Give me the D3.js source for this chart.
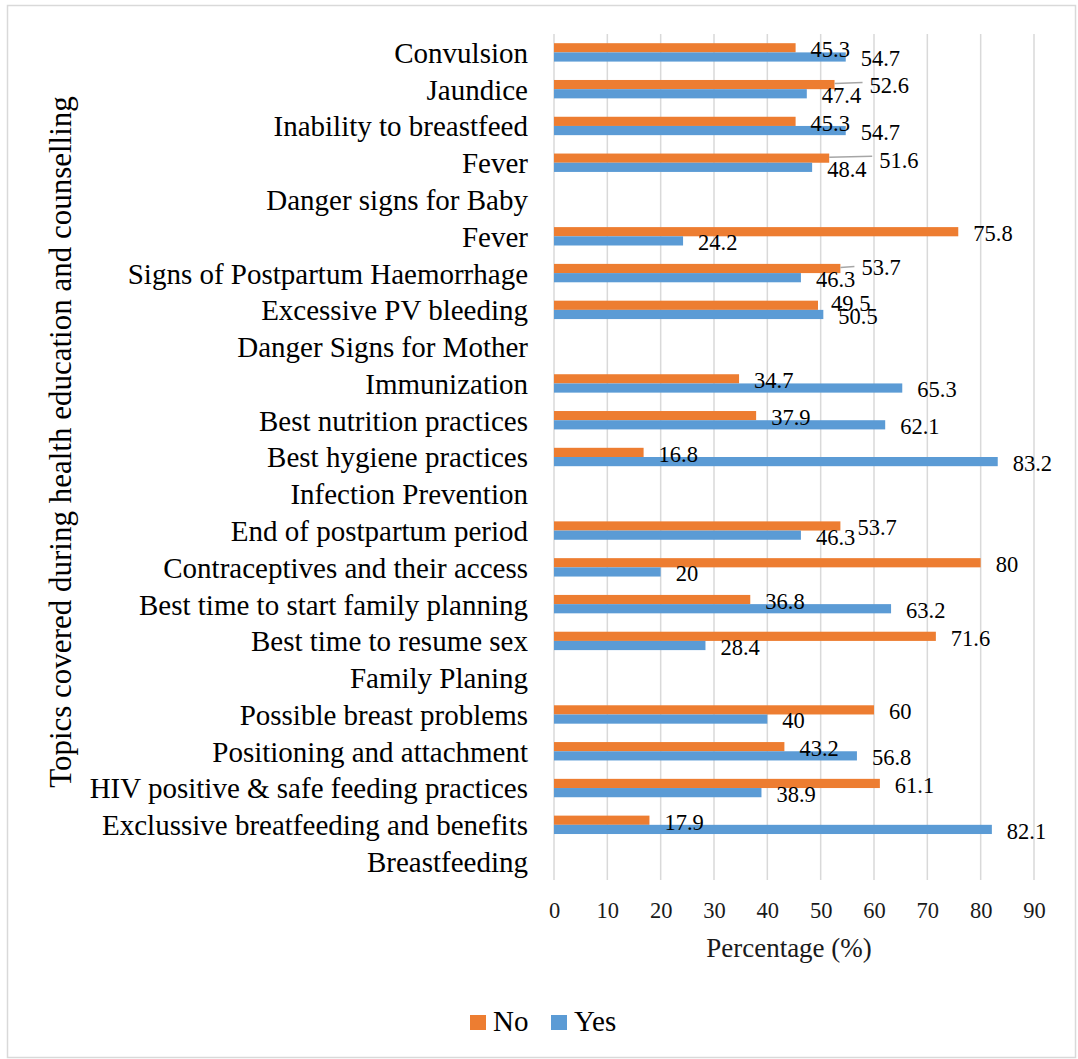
<!DOCTYPE html>
<html>
<head>
<meta charset="utf-8">
<script src="https://cdn.jsdelivr.net/npm/d3@7"></script>
<style>
  body { margin: 0; background: #fff; }
</style>
</head>
<body>
<div id="chart"></div>
<script>
// topics, top to bottom as drawn; group headers have no values
const topics = [
    'Convulsion', 'Jaundice', 'Inability to breastfeed', 'Fever',
    'Danger signs for Baby',
    'Fever', 'Signs of Postpartum Haemorrhage', 'Excessive PV bleeding',
    'Danger Signs for Mother',
    'Immunization', 'Best nutrition practices', 'Best hygiene practices',
    'Infection Prevention',
    'End of postpartum period', 'Contraceptives and their access',
    'Best time to start family planning', 'Best time to resume sex',
    'Family Planing',
    'Possible breast problems', 'Positioning and attachment',
    'HIV positive & safe feeding practices', 'Exclussive breatfeeding and benefits',
    'Breastfeeding'
];
const noValues = [45.3, 52.6, 45.3, 51.6, null, 75.8, 53.7, 49.5, null, 34.7, 37.9, 16.8, null,
    53.7, 80, 36.8, 71.6, null, 60, 43.2, 61.1, 17.9, null];
const yesValues = [54.7, 47.4, 54.7, 48.4, null, 24.2, 46.3, 50.5, null, 65.3, 62.1, 83.2, null,
    46.3, 20, 63.2, 28.4, null, 40, 56.8, 38.9, 82.1, null];
const seriesNames = ['No', 'Yes'];
const xTicks = [0, 10, 20, 30, 40, 50, 60, 70, 80, 90];

const colors = { No: '#ED7D31', Yes: '#5B9BD5' };
const FONT = '"Liberation Serif", "Times New Roman", Times, "DejaVu Serif", serif';

// labels that were dragged aside in the original (key: row-series)
const labelNudge = {
    '1-No': { dx: 20, dy: -1, leader: true },
    '3-No': { dx: 35, dy: 0, leader: true },
    '6-No': { dx: 6, dy: -3, leader: true },
    '7-No': { dx: -2, dy: -4 },
    '13-No': { dx: 2, dy: 0 }
};
const nudge = d => labelNudge[d.i + '-' + d.series] || { dx: 0, dy: 0 };

const width = 1078, height = 1059;
const plot = { left: 554, right: 1034, top: 34, bottom: 880 };

const svg = d3.select('#chart').append('svg')
    .attr('width', width)
    .attr('height', height)
    .style('font-family', FONT);

svg.append('rect')
    .attr('x', 7.5).attr('y', 5.5)
    .attr('width', 1068).attr('height', 1052)
    .attr('fill', '#fff')
    .attr('stroke', '#d9d9d9')
    .attr('stroke-width', 1.5);

const x = d3.scaleLinear().domain([0, 90]).range([plot.left, plot.right]);
const y = d3.scaleBand()
    .domain(d3.range(topics.length))
    .range([plot.top, plot.bottom])
    .paddingInner(0.5)
    .paddingOuter(0.25);
const ySub = d3.scaleBand().domain(seriesNames).range([0, y.bandwidth()]);

// gridlines
svg.append('g')
    .selectAll('line')
    .data(xTicks)
    .enter().append('line')
    .attr('x1', d => x(d)).attr('x2', d => x(d))
    .attr('y1', plot.top).attr('y2', plot.bottom)
    .attr('stroke', '#d9d9d9')
    .attr('stroke-width', 1.5);

// x axis ticks
const xAxis = svg.append('g')
    .attr('transform', `translate(0, ${plot.bottom})`)
    .call(d3.axisBottom(x).tickValues(xTicks).tickSize(0).tickPadding(22));
xAxis.attr('font-family', null);
xAxis.select('.domain').remove();
xAxis.selectAll('text')
    .style('font-family', FONT)
    .style('font-size', '22.5px')
    .style('fill', '#1a1a1a');

// category labels
const yAxis = svg.append('g')
    .attr('transform', `translate(${plot.left - 26}, 0)`)
    .call(d3.axisLeft(y).tickFormat(i => topics[i]).tickSize(0).tickPadding(0));
yAxis.attr('font-family', null);
yAxis.select('.domain').remove();
yAxis.selectAll('text')
    .style('font-family', FONT)
    .style('font-size', '29px')
    .style('fill', '#000')
    .attr('dy', '0.36em');

// bars
const rows = topics.map((t, i) => ({ i, No: noValues[i], Yes: yesValues[i] }));
const items = [];
rows.forEach(r => seriesNames.forEach(s => {
    if (r[s] !== null) items.push({ i: r.i, series: s, value: r[s] });
}));

svg.append('g')
    .selectAll('rect')
    .data(items)
    .enter().append('rect')
    .attr('x', x(0))
    .attr('y', d => y(d.i) + ySub(d.series))
    .attr('width', d => x(d.value) - x(0))
    .attr('height', ySub.bandwidth())
    .attr('fill', d => colors[d.series]);

const barMid = d => y(d.i) + ySub(d.series) + ySub.bandwidth() / 2;

// leader lines for moved labels
svg.append('g')
    .selectAll('line')
    .data(items.filter(d => nudge(d).leader))
    .enter().append('line')
    .attr('x1', d => x(d.value))
    .attr('y1', d => barMid(d) - 1)
    .attr('x2', d => x(d.value) + 8 + nudge(d).dx)
    .attr('y2', d => barMid(d) - 2)
    .attr('stroke', '#a6a6a6')
    .attr('stroke-width', 1.5);

// data labels
svg.append('g')
    .selectAll('text')
    .data(items)
    .enter().append('text')
    .attr('x', d => x(d.value) + 15 + nudge(d).dx)
    .attr('y', d => barMid(d) + 1.5 + nudge(d).dy)
    .attr('dy', '0.35em')
    .style('font-family', FONT)
    .style('font-size', '22.5px')
    .style('fill', '#000')
    .text(d => d.value);

// axis titles
svg.append('text')
    .attr('x', (plot.left + plot.right) / 2 - 5)
    .attr('y', 957)
    .attr('text-anchor', 'middle')
    .style('font-family', FONT)
    .style('font-size', '27px')
    .style('fill', '#1a1a1a')
    .text('Percentage (%)');

svg.append('text')
    .attr('transform', 'translate(71, 442) rotate(-90)')
    .attr('text-anchor', 'middle')
    .style('font-family', FONT)
    .style('font-size', '31px')
    .style('fill', '#000')
    .text('Topics covered during health education and counselling');

// legend
const legend = svg.append('g').attr('transform', 'translate(470, 1015)');
const legendItems = legend.selectAll('g')
    .data(seriesNames)
    .enter().append('g')
    .attr('transform', (d, i) => `translate(${i * 81}, 0)`);
legendItems.append('rect')
    .attr('width', 16).attr('height', 15)
    .attr('fill', d => colors[d]);
legendItems.append('text')
    .attr('x', 23)
    .attr('y', 16)
    .style('font-family', FONT)
    .style('font-size', '29px')
    .style('fill', '#000')
    .text(d => d);
</script>
</body>
</html>
